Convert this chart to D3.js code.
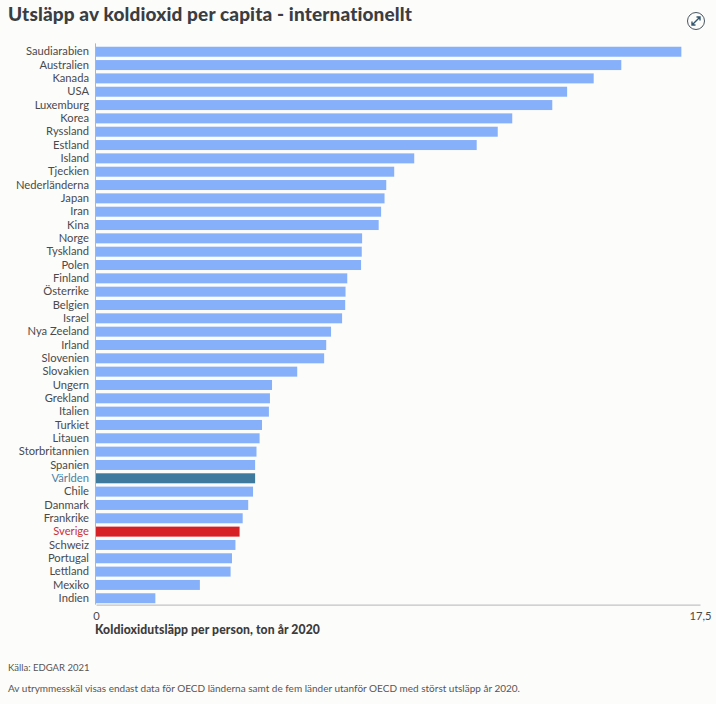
<!DOCTYPE html>
<html>
<head>
<meta charset="utf-8">
<script src="https://cdn.jsdelivr.net/npm/d3@7"></script>
<style>
  html, body { margin: 0; padding: 0; background: #fcfcfb; }
  svg { display: block; font-family: Lato, sans-serif; }
  .label { font-size: 11.2px; fill: #4a4a4a; }
  .note { font-size: 10px; fill: #555; }
</style>
</head>
<body>
<svg id="chart"></svg>
<script>
// chart data
var countries = ["Saudiarabien","Australien","Kanada","USA","Luxemburg","Korea","Ryssland","Estland","Island","Tjeckien","Nederländerna","Japan","Iran","Kina","Norge","Tyskland","Polen","Finland","Österrike","Belgien","Israel","Nya Zeeland","Irland","Slovenien","Slovakien","Ungern","Grekland","Italien","Turkiet","Litauen","Storbritannien","Spanien","Världen","Chile","Danmark","Frankrike","Sverige","Schweiz","Portugal","Lettland","Mexiko","Indien"];
var emissions = [16.96,15.22,14.42,13.65,13.22,12.06,11.64,11.03,9.22,8.64,8.41,8.36,8.26,8.19,7.71,7.70,7.68,7.28,7.23,7.22,7.13,6.81,6.67,6.61,5.83,5.10,5.04,5.01,4.81,4.74,4.65,4.61,4.61,4.55,4.41,4.25,4.16,4.04,3.94,3.90,3.01,1.72];
var xTicks = [0, 17.5];
var xTickLabels = ["0", "17,5"];

var title = "Utsläpp av koldioxid per capita - internationellt";
var xTitle = "Koldioxidutsläpp per person, ton år 2020";
var notes = ["Källa: EDGAR 2021", "Av utrymmesskäl visas endast data för OECD länderna samt de fem länder utanför OECD med störst utsläpp år 2020."];

// highlighted bars
var barColor = {"Världen": "#3d7a9e", "Sverige": "#d71f26"};
var labelColor = {"Världen": "#4f7f9f", "Sverige": "#c8323a"};

var margin = {top: 45.4, bottom: 99.4, left: 96, right: 16},
  width = 716 - margin.left - margin.right,
  height = 704 - margin.top - margin.bottom;

var svg = d3.select("#chart")
    .attr("width", 716)
    .attr("height", 704);

var g = svg.append("g")
    .attr("transform", "translate(" + margin.left + "," + margin.top + ")");

var x = d3.scaleLinear()
  .domain([0, 17.5])
  .range([0, width]);

var y = d3.scaleBand()
  .domain(countries)
  .range([0, height])
  .paddingInner(0.25)
  .paddingOuter(0.1);

// bars
g.selectAll(".bar")
  .data(countries)
  .enter().append("rect")
    .attr("class", "bar")
    .attr("x", 0)
    .attr("y", function(d) { return y(d); })
    .attr("width", function(d, i) { return x(emissions[i]); })
    .attr("height", y.bandwidth())
    .attr("fill", function(d) { return barColor[d] || "#87b0fb"; });

// y axis
var yAxis = d3.axisLeft(y).tickSize(0).tickPadding(7);
var yG = g.append("g").call(yAxis);
yG.select(".domain").remove();
yG.selectAll("text")
  .attr("class", "label")
  .style("font-family", "Lato, sans-serif")
  .style("fill", function(d) { return labelColor[d] || "#4a4a4a"; });

// the vertical line starts a little above the first bar
g.append("line")
  .attr("x1", -0.5)
  .attr("x2", -0.5)
  .attr("y1", -2)
  .attr("y2", height)
  .attr("stroke", "#b4b4b4");

// x axis
var xAxis = d3.axisBottom(x)
  .tickValues(xTicks)
  .tickSize(0)
  .tickPadding(7)
  .tickFormat(function(d, i) { return xTickLabels[i]; });
var xG = g.append("g")
  .attr("transform", "translate(0," + height + ")")
  .call(xAxis);
xG.select(".domain").attr("stroke", "#b4b4b4").attr("stroke-width", 1);
xG.selectAll("text")
  .attr("class", "label")
  .style("font-family", "Lato, sans-serif");

g.append("text")
  .attr("x", -1)
  .attr("y", height + 29)
  .style("font-size", "12.2px")
  .style("font-weight", "900")
  .style("letter-spacing", "0.08px")
  .style("fill", "#3c3c3c")
  .text(xTitle);

// title
svg.append("text")
  .attr("x", 8)
  .attr("y", 21)
  .style("font-size", "19px")
  .style("font-weight", "900")
  .style("letter-spacing", "0.13px")
  .style("fill", "#3a3d42")
  .text(title);

// notes
svg.selectAll(".note")
  .data(notes)
  .enter().append("text")
    .attr("class", "note")
    .attr("x", 8)
    .attr("y", function(d, i) { return 671 + i * 21; })
    .style("font-size", function(d, i) { return i == 0 ? "9.5px" : "10px"; })
    .text(function(d) { return d; });

// expand icon, top right
var icon = svg.append("g").attr("transform", "translate(696,21)");
icon.append("circle")
  .attr("r", 8.5)
  .attr("fill", "none")
  .attr("stroke", "#4a5560")
  .attr("stroke-width", 1);
icon.append("path")
  .attr("d", "M-3.5,3.5L3.5,-3.5M0.5,-4L4,-4L4,-0.5M-4,0.5L-4,4L-0.5,4")
  .attr("fill", "none")
  .attr("stroke", "#34556e")
  .attr("stroke-width", 1.4);
</script>
</body>
</html>
